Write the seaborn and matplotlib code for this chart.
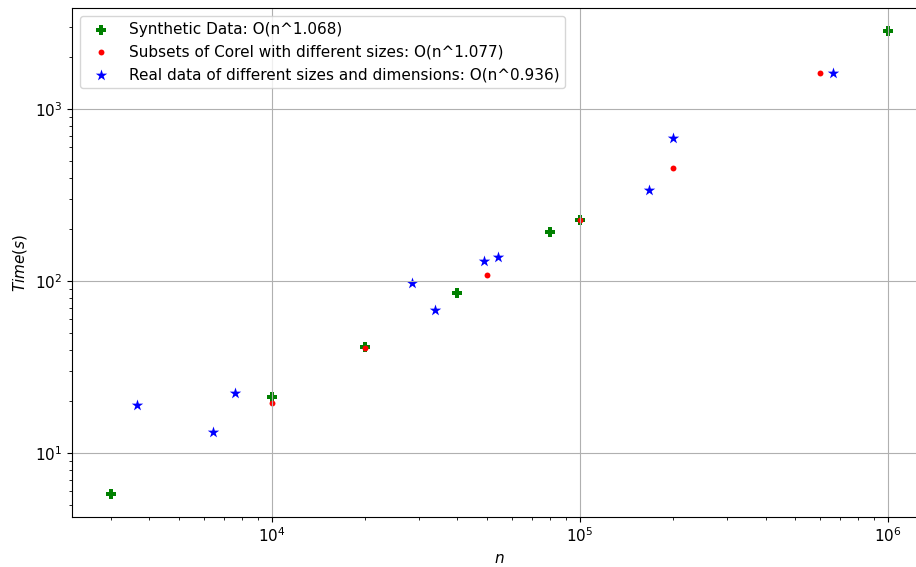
import numpy as np
import pandas as pd
import seaborn as sns
import matplotlib
matplotlib.use("Agg")
import matplotlib.pyplot as plt

plt.rcParams["font.size"] = 11

# (log-log)
synth_n = [3000, 10000, 20000, 40000, 80000, 100000, 1000000]
synth_t = [5.8, 21.2, 41.3, 85, 192, 226, 2840]

corel_n = [10000, 20000, 50000, 100000, 200000, 600000]
corel_t = [19.5, 40.7, 108, 228, 454, 1620]

real_n = [3660, 6430, 7580, 28500, 33900, 48900, 54300, 168000, 201000, 662000]
real_t = [19.0, 13.2, 22.3, 97.3, 67.8, 131, 138, 338, 678, 1620]

labels = ["Synthetic Data: O(n^1.068)",
          "Subsets of Corel with different sizes: O(n^1.077)",
          "Real data of different sizes and dimensions: O(n^0.936)"]

fig = plt.figure(figsize=(9.16, 5.67), dpi=100)
ax = fig.add_axes([0.0786, 0.0882, 0.9334, 0.8977])

sns.scatterplot(x=synth_n, y=synth_t, marker="P", color="green", s=60,
                linewidth=0, label=labels[0], ax=ax)
sns.scatterplot(x=corel_n, y=corel_t, marker="o", color="red", s=18,
                linewidth=0, label=labels[1], ax=ax)
sns.scatterplot(x=real_n, y=real_t, marker="*", color="blue", s=75,
                linewidth=0, label=labels[2], ax=ax)

ax.set_xscale("log")
ax.set_yscale("log")
ax.grid(True, which="major")
ax.set_xlabel("$n$")
ax.set_ylabel("$Time(s)$")
ax.legend(loc="upper left")

fig.savefig("out.png", dpi=100)
